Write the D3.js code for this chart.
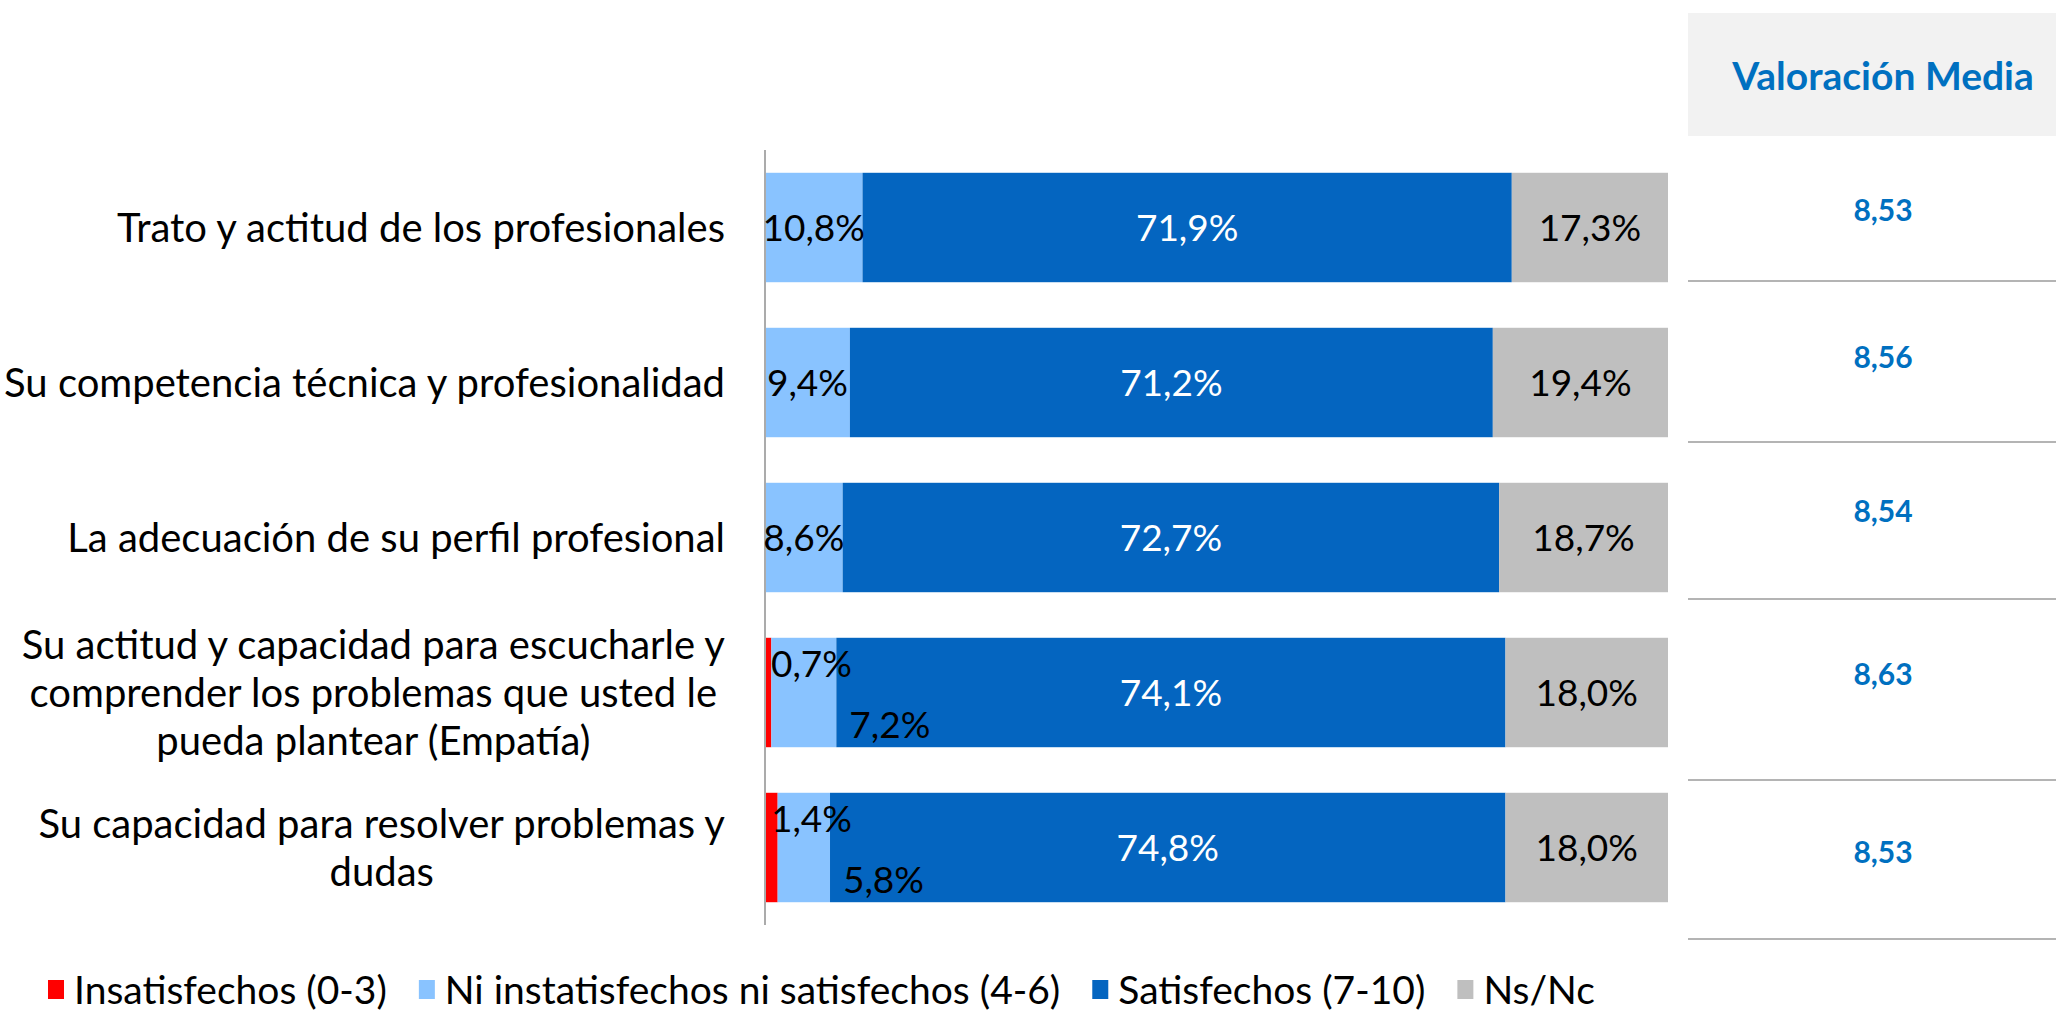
<!DOCTYPE html>
<html><head><meta charset="utf-8">
<script src="https://cdn.jsdelivr.net/npm/d3@7"></script>
<style>
html,body{margin:0;padding:0;background:#fff;}
svg{display:block;font-family:Lato, "Open Sans", sans-serif;}
</style></head>
<body>
<svg id="c" width="2056" height="1012"></svg>
<script>
// ---- data ----
const categories = [
  "Trato y actitud de los profesionales",
  "Su competencia técnica y profesionalidad",
  "La adecuación de su perfil profesional",
  "Su actitud y capacidad para escucharle y\ncomprender los problemas que usted le\npueda plantear (Empatía)",
  "Su capacidad para resolver problemas y\ndudas"
];
const seriesNames = ["Insatisfechos (0-3)", "Ni instatisfechos ni satisfechos (4-6)", "Satisfechos (7-10)", "Ns/Nc"];
const insatisfechos = [0, 0, 0, 0.7, 1.4];
const niNi = [10.8, 9.4, 8.6, 7.2, 5.8];
const satisfechos = [71.9, 71.2, 72.7, 74.1, 74.8];
const nsnc = [17.3, 19.4, 18.7, 18.0, 18.0];
const valoracionMedia = [8.53, 8.56, 8.54, 8.63, 8.53];
const tableHeader = "Valoración Media";

const colors = ["#FF0000", "#89C3FF", "#0465C0", "#BFBFBF"];

// ---- layout ----
const svg = d3.select("#c");
const x = d3.scaleLinear().domain([0, 100]).range([765, 1668]);
const y = d3.scaleBand().domain(categories).range([150, 925]).paddingInner(0.294).paddingOuter(0.147);

const fmt = v => d3.format(".1f")(v).replace(".", ",") + "%";
const fmt2 = v => d3.format(".2f")(v).replace(".", ",");

const series = [insatisfechos, niNi, satisfechos, nsnc];
const rows = categories.map((c, i) => {
  let acc = 0;
  return series.map((s, k) => {
    const seg = {cat: c, row: i, k, v: s[i], x0: acc, x1: acc + s[i]};
    acc += s[i];
    return seg;
  });
});

const g = svg.append("g");
rows.forEach(segs => {
  g.selectAll(null).data(segs.filter(d => d.v > 0)).enter().append("rect")
    .attr("x", d => x(d.x0))
    .attr("width", d => x(d.x1) - x(d.x0))
    .attr("y", d => y(d.cat))
    .attr("height", y.bandwidth())
    .attr("fill", d => colors[d.k]);
});

// axis line
svg.append("line")
  .attr("x1", x(0)).attr("x2", x(0))
  .attr("y1", y.range()[0]).attr("y2", y.range()[1])
  .attr("stroke", "#ABABAB").attr("stroke-width", 2);

// data labels
const LFS = 37;
rows.forEach(segs => {
  const hasRed = segs[0].v > 0;
  segs.forEach(d => {
    if (d.v <= 0) return;
    const cy = y(d.cat) + y.bandwidth() / 2;
    let tx = (x(d.x0) + x(d.x1)) / 2, ty = cy, anchor = "middle";
    if (hasRed && d.k === 0) { tx = x(d.x0) + 6; ty = cy - 29; anchor = "start"; }
    if (hasRed && d.k === 1) { tx = x(d.x1) + 13; ty = cy + 32; anchor = "start"; }
    svg.append("text")
      .attr("x", tx).attr("y", ty)
      .attr("dy", "0.36em")
      .attr("text-anchor", anchor)
      .attr("font-size", LFS)
      .attr("fill", d.k === 2 ? "#FFFFFF" : "#000000")
      .text(fmt(d.v));
  });
});

// category labels (box right-aligned, lines centered)
const CFS = 40, lineH = 48, labelRight = 725;
categories.forEach(c => {
  const lines = c.split("\n");
  const cy = y(c) + y.bandwidth() / 2;
  const t = svg.append("text").attr("font-size", CFS).attr("fill", "#000").attr("text-anchor", "middle");
  lines.forEach((ln, j) => {
    t.append("tspan").attr("x", 0).attr("y", cy + (j - (lines.length - 1) / 2) * lineH).attr("dy", "0.36em").text(ln);
  });
  const w = d3.max(t.selectAll("tspan").nodes(), n => n.getComputedTextLength());
  t.selectAll("tspan").attr("x", labelRight - w / 2);
});

// table
const tableX0 = 1688, tableX1 = 2056, tableCx = 1883;
svg.append("rect").attr("x", tableX0).attr("y", 13).attr("width", tableX1 - tableX0).attr("height", 123).attr("fill", "#F2F2F2");
svg.append("text").attr("x", tableCx).attr("y", 76).attr("dy", "0.36em")
  .attr("text-anchor", "middle").attr("font-size", 39).attr("font-weight", 700).attr("fill", "#0070C0")
  .text(tableHeader);
const rowBounds = [281, 442, 599, 780, 939];
const valueY = [210, 357, 511, 674, 852];
valoracionMedia.forEach((v, i) => {
  svg.append("text").attr("x", tableCx).attr("y", valueY[i]).attr("dy", "0.36em")
    .attr("text-anchor", "middle").attr("font-size", 30).attr("font-weight", 700).attr("fill", "#0070C0")
    .text(fmt2(v));
});
rowBounds.forEach(b => {
  svg.append("line").attr("x1", tableX0).attr("x2", tableX1).attr("y1", b).attr("y2", b)
    .attr("stroke", "#B4B4B4").attr("stroke-width", 2);
});

// legend
const legend = svg.append("g").attr("transform", "translate(48,990)");
let lx = 0;
seriesNames.forEach((n, k) => {
  legend.append("rect").attr("x", lx).attr("y", -10).attr("width", 16).attr("height", 19).attr("fill", colors[k]);
  const t = legend.append("text").attr("x", lx + 26).attr("y", 0).attr("dy", "0.36em")
    .attr("font-size", 39).attr("fill", "#000").text(n);
  lx += 26 + t.node().getComputedTextLength() + 32;
});
</script>
</body></html>
